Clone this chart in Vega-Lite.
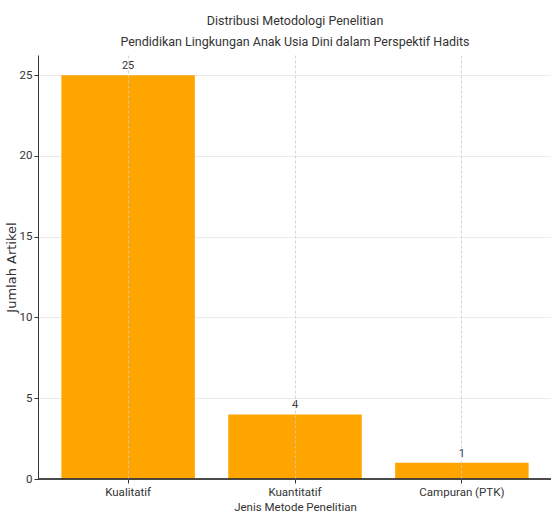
{
  "$schema": "https://vega.github.io/schema/vega-lite/v6.json",
  "width": 514,
  "height": 424,
  "autosize": {"type": "none"},
  "padding": {"left": 38, "top": 55, "right": 0, "bottom": 36},
  "background": "white",
  "title": {
    "text": ["Distribusi Metodologi Penelitian", "Pendidikan Lingkungan Anak Usia Dini dalam Perspektif Hadits"],
    "font": "Roboto",
    "fontSize": 12.5,
    "fontWeight": "normal",
    "color": "#333333",
    "lineHeight": 21,
    "anchor": "middle",
    "frame": "group",
    "offset": 7
  },
  "config": {
    "view": {"stroke": null},
    "axis": {
      "labelFont": "Roboto",
      "labelFontSize": 11.5,
      "labelColor": "#333333",
      "titleFont": "Roboto",
      "titleFontSize": 11.5,
      "titleFontWeight": "normal",
      "titleColor": "#333333",
      "domainColor": "#333333",
      "tickColor": "#333333",
      "tickSize": 4,
      "gridColor": "#cccccc",
      "gridWidth": 0.8
    }
  },
  "data": {
    "values": [
      {"metode": "Kualitatif", "jumlah": 25},
      {"metode": "Kuantitatif", "jumlah": 4},
      {"metode": "Campuran (PTK)", "jumlah": 1}
    ]
  },
  "encoding": {
    "x": {
      "field": "metode",
      "type": "nominal",
      "sort": null,
      "title": "Jenis Metode Penelitian",
      "scale": {"paddingInner": 0.2, "paddingOuter": 0.14},
      "axis": {
        "labelAngle": 0,
        "grid": true,
        "gridDash": [3, 2],
        "zindex": 1,
        "domain": false,
        "labelPadding": 3,
        "titlePadding": 4
      }
    },
    "y": {
      "field": "jumlah",
      "type": "quantitative",
      "title": "Jumlah Artikel",
      "scale": {"domain": [0, 26.25], "nice": false},
      "axis": {
        "values": [0, 5, 10, 15, 20, 25],
        "grid": true,
        "gridDash": [1, 1],
        "zindex": 0,
        "titleFont": "DejaVu Sans",
        "titleFontSize": 13,
        "titleX": -27,
        "titleBaseline": "middle",
        "labelPadding": 2
      }
    }
  },
  "layer": [
    {"mark": {"type": "bar", "color": "#FFA500"}},
    {
      "mark": {
        "type": "text",
        "baseline": "bottom",
        "dy": -4,
        "font": "Roboto",
        "fontSize": 11,
        "color": "#333333"
      },
      "encoding": {"text": {"field": "jumlah", "type": "quantitative"}}
    },
    {
      "mark": {"type": "rule", "color": "#333333", "strokeWidth": 1},
      "encoding": {"y": {"datum": 0}, "x": {"value": 0}, "x2": {"value": 514}}
    }
  ]
}
